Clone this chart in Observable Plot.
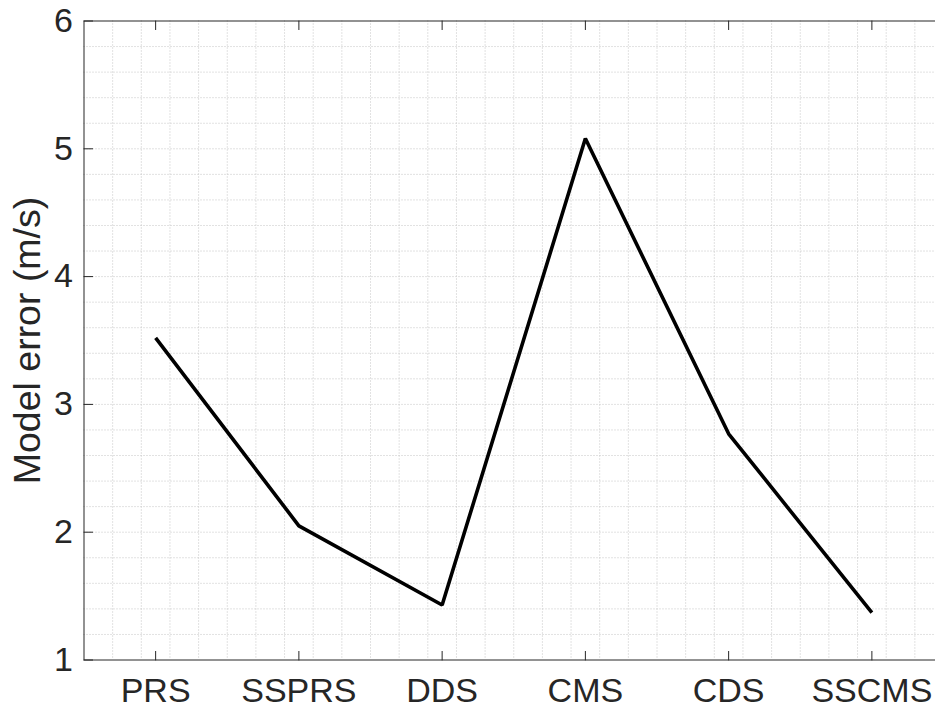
<!DOCTYPE html>
<html>
<head>
<meta charset="utf-8">
<script src="https://cdn.jsdelivr.net/npm/d3@7"></script>
<script src="https://cdn.jsdelivr.net/npm/@observablehq/plot@0.6"></script>
<style>
  html, body { margin: 0; padding: 0; background: #fff; overflow: hidden; }
  #chart { width: 935px; height: 708px; }
</style>
</head>
<body>
<div id="chart"></div>
<script>
// Model error per scheme
const categories = ["PRS", "SSPRS", "DDS", "CMS", "CDS", "SSCMS"];
const errors = [3.52, 2.05, 1.43, 5.08, 2.77, 1.37];

// Axis settings
const yDomain = [1, 6];
const yTicks = [1, 2, 3, 4, 5, 6];
const yLabel = "Model error (m/s)";

const data = categories.map((name, i) => ({pos: i + 1, name, error: errors[i]}));
const xTicks = data.map(d => d.pos);
const xDomain = [0.5, categories.length + 0.5];

// Minor grid every fifth of a unit
const xGrid = d3.range(xDomain[0] * 5 + 1, xDomain[1] * 5).map(i => i / 5);
const yGrid = d3.range(yDomain[0] * 5 + 1, yDomain[1] * 5).map(i => i / 5);

const ink = "#262626";
const tickLen = 8.6;
const tickShape = {draw(context, l) { context.moveTo(0, 0); context.lineTo(0, -l); }};

const chart = Plot.plot({
  width: 935,
  height: 708,
  marginLeft: 83.5,
  marginRight: -8,
  marginTop: 20.5,
  marginBottom: 48.5,
  style: {fontFamily: "'Liberation Sans', Arial, Helvetica, sans-serif", color: ink, background: "#fff"},
  x: {domain: xDomain},
  y: {domain: yDomain},
  marks: [
    Plot.ruleX(xGrid, {x: d => d, stroke: "#c4c4c4", strokeWidth: 1, strokeDasharray: "1,2"}),
    Plot.ruleY(yGrid, {y: d => d, stroke: "#c4c4c4", strokeWidth: 1, strokeDasharray: "1,2"}),
    Plot.frame({stroke: ink, strokeWidth: 1}),
    // inward major ticks: bottom, top, left
    Plot.vector(xTicks, {x: d => d, y: yDomain[0], length: tickLen, rotate: 0, anchor: "start", shape: tickShape, stroke: ink, strokeWidth: 1}),
    Plot.vector(xTicks, {x: d => d, y: yDomain[1], length: tickLen, rotate: 180, anchor: "start", shape: tickShape, stroke: ink, strokeWidth: 1}),
    Plot.vector(yTicks, {x: xDomain[0], y: d => d, length: tickLen, rotate: 90, anchor: "start", shape: tickShape, stroke: ink, strokeWidth: 1}),
    Plot.axisX({ticks: xTicks, tickFormat: i => categories[i - 1], tickSize: 0, tickPadding: 17.5, fontSize: 34, label: null, fill: ink}),
    Plot.axisY({ticks: yTicks, tickFormat: d => String(d), tickSize: 0, tickPadding: 11, fontSize: 34, label: null, fill: ink}),
    Plot.text([yLabel], {frameAnchor: "left", text: d => d, rotate: -90, dx: -71, lineAnchor: "top", textAnchor: "middle", fontSize: 37.5, fill: ink}),
    Plot.line(data, {x: "pos", y: "error", stroke: "#000", strokeWidth: 3.6, strokeLinejoin: "miter", strokeLinecap: "butt"})
  ]
});

document.getElementById("chart").appendChild(chart);
</script>
</body>
</html>
